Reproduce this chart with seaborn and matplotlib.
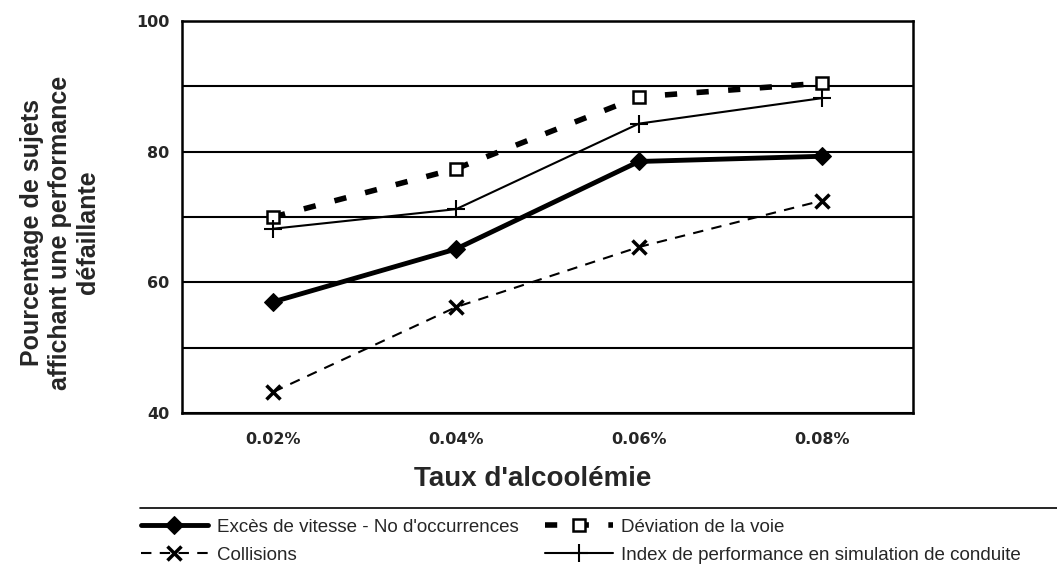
import numpy as np
import pandas as pd
import matplotlib
matplotlib.use("Agg")
import matplotlib.pyplot as plt
import seaborn as sns
from matplotlib.lines import Line2D
from matplotlib.ticker import MultipleLocator, FixedLocator

# Data
taux = ["0.02%", "0.04%", "0.06%", "0.08%"]
exces_vitesse = [57.0, 65.1, 78.5, 79.3]
deviation_voie = [70.0, 77.4, 88.4, 90.5]
collisions = [43.2, 56.2, 65.4, 72.5]
index_perf = [68.2, 71.2, 84.3, 88.2]

labels = ["Excès de vitesse - No d'occurrences", "Déviation de la voie",
          "Collisions", "Index de performance en simulation de conduite"]

sns.set_style("white")
plt.rcParams['font.family'] = ['Liberation Sans', 'DejaVu Sans']

df = pd.DataFrame({
    'taux': taux * 4,
    'valeur': exces_vitesse + deviation_voie + collisions + index_perf,
    'serie': np.repeat(labels, len(taux)),
})

fig = plt.figure(figsize=(10.57, 5.71), dpi=100)
ax = fig.add_axes([0.172, 0.277, 0.692, 0.686])

styles = {
    labels[0]: dict(lw=3.5, marker='D', ms=9, mfc='black', mec='black', ls='-'),
    labels[1]: dict(lw=4, marker='s', ms=9, mfc='white', mec='black', mew=1.8,
                    dashes=(2.2, 3.5)),
    labels[2]: dict(lw=1.5, marker='x', ms=10, mec='black', mew=2.5, ls=(0, (5, 4))),
    labels[3]: dict(lw=1.5, marker='+', ms=13, mec='black', mew=1.5, ls='-'),
}

handles = {}
for lab in labels:
    sub = df[df['serie'] == lab]
    st = dict(styles[lab])
    dashes = st.pop('dashes', None)
    sns.lineplot(data=sub, x='taux', y='valeur', color='black', ax=ax,
                 label=lab, **st)
    line = ax.get_lines()[-1]
    if dashes is not None:
        line.set_dashes(dashes)
    handles[lab] = line

ax.set_xlim(-0.5, 3.5)
ax.set_ylim(40, 100)
ax.yaxis.set_major_locator(FixedLocator([40, 60, 80, 100]))
ax.yaxis.set_minor_locator(MultipleLocator(10))
ax.xaxis.set_minor_locator(FixedLocator([-0.5, 0.5, 1.5, 2.5, 3.5]))
ax.grid(which='both', axis='y', color='black', lw=1.5)
ax.set_axisbelow(True)
for s in ax.spines.values():
    s.set_color('black')
    s.set_linewidth(1.8)

ax.tick_params(axis='x', which='major', length=0, pad=14)
ax.tick_params(axis='x', which='minor', length=5, width=1.5, direction='out', color='black')
ax.tick_params(axis='y', which='major', length=5, width=1.5, direction='out', pad=4)
ax.tick_params(axis='y', which='minor', length=0)
for t in ax.get_xticklabels() + ax.get_yticklabels():
    t.set_fontfamily('DejaVu Sans')
    t.set_fontweight('bold')
    t.set_fontsize(11.5)

ax.set_xlabel("Taux d'alcoolémie", fontsize=20, fontweight='bold')
ax.xaxis.set_label_coords(0.48, -0.135)
ax.set_ylabel("Pourcentage de sujets\naffichant une performance\ndéfaillante",
              fontsize=18, fontweight='bold', linespacing=1.2)
ax.yaxis.set_label_coords(-0.112, 0.46)

ax.get_legend().remove()
order = [labels[0], labels[2], labels[1], labels[3]]
leg = fig.legend([handles[k] for k in order], order, ncol=2,
                 loc='upper left', bbox_to_anchor=(0.133, 0.092),
                 frameon=False, fontsize=13.5, handlelength=3.6,
                 handletextpad=0.45, columnspacing=1.45,
                 borderaxespad=0, borderpad=0, labelspacing=0.6)

# top rule of the legend box
fig.add_artist(Line2D([140 / 1057, 1.0], [1 - 508 / 571] * 2,
                      transform=fig.transFigure, color='black', lw=1.2))

fig.savefig("out.png", dpi=100)
